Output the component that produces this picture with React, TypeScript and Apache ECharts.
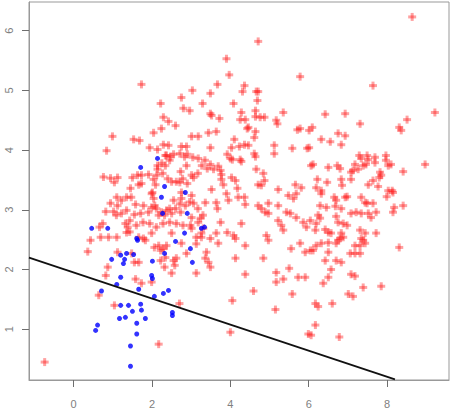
import React, { useEffect, useRef } from "react";
import * as echarts from "echarts";

const xTicks = [0, 2, 4, 6, 8];
const yTicks = [1, 2, 3, 4, 5, 6];

const redPoints: number[][] = [
  [1.73,5.10],[2.22,4.78],[2.29,4.55],[2.24,4.36],[2.04,4.29],[0.99,4.23],[1.53,4.18],[1.68,4.16],[0.84,3.99],[1.94,4.04],[2.14,4.01],[2.29,4.09],[2.34,3.91],[2.14,3.74],[2.14,3.68],[2.34,3.74],[0.76,3.55],[0.94,3.53],[1.12,3.54],[1.04,3.46],[1.73,3.58],[1.91,3.59],[2.04,3.51],[2.09,3.42],[1.45,3.36],[1.66,3.42],[1.73,3.44],[2.01,3.29],
  [4.71,5.82],[3.90,5.53],[3.97,5.26],[5.78,5.23],[3.67,5.10],[4.36,5.08],[4.31,4.98],[3.03,5.00],[3.49,4.95],[4.66,4.98],[4.71,4.98],[2.75,4.88],[4.69,4.83],[4.08,4.78],[3.29,4.78],[2.80,4.70],[2.96,4.66],[3.49,4.61],[3.52,4.58],[4.28,4.63],[4.64,4.66],[4.64,4.56],[4.76,4.55],[4.87,4.55],[5.35,4.63],[4.25,4.51],[4.38,4.51],[3.72,4.53],[5.17,4.50],[5.20,4.44],[2.42,4.48],[2.60,4.41],[4.46,4.38],[4.43,4.36],[5.71,4.34],[5.78,4.36],[4.64,4.31],[4.61,4.21],[3.44,4.29],[3.64,4.31],[3.01,4.23],[3.18,4.23],[4.10,4.18],[4.03,4.04],[4.23,4.06],[4.36,4.09],[4.46,4.08],[3.49,4.04],[2.75,4.06],[2.88,4.06],[5.12,4.08],[5.12,3.94],[5.58,4.03],[5.96,4.03],[2.42,4.08],[4.61,3.94],[4.64,3.89],[2.55,3.93],[2.47,3.89],[2.83,3.89],[2.90,3.93],[3.92,3.93],[4.00,3.86],[4.05,3.84],[3.18,3.86],[4.28,3.81],[4.25,3.84],[4.66,3.68],[2.88,3.74],[3.49,3.76],[3.41,3.69],[3.57,3.68],[3.69,3.73],[3.75,3.66],[3.77,3.59],[3.77,3.51],[4.84,3.61],[4.87,3.49],[4.03,3.54],[4.13,3.49],[2.73,3.64],[3.01,3.58],[3.06,3.54],[2.50,3.47],[2.62,3.47],[2.90,3.44],[3.52,3.34],[3.82,3.42],[4.18,3.36],[4.71,3.42],[4.79,3.41],[5.22,3.34],[5.66,3.42],[5.81,3.37],
  [8.64,6.23],[7.64,5.08],[6.42,4.60],[6.93,4.61],[9.22,4.63],[8.51,4.51],[7.31,4.44],[6.09,4.38],[6.01,4.33],[8.31,4.38],[8.36,4.33],[6.75,4.28],[6.93,4.24],[6.32,4.18],[6.55,4.14],[6.83,4.09],[6.01,4.04],[6.06,3.74],[6.11,3.76],[6.50,3.71],[6.73,3.74],[6.80,3.69],[7.29,3.91],[7.34,3.86],[7.49,3.91],[7.52,3.84],[7.69,3.88],[7.69,3.79],[7.97,3.91],[7.97,3.83],[8.10,3.76],[8.03,3.74],[7.18,3.76],[7.26,3.68],[7.13,3.66],[7.08,3.63],[7.39,3.74],[7.46,3.76],[7.82,3.63],[7.85,3.58],[7.80,3.54],[8.41,3.64],[8.97,3.76],[6.22,3.51],[6.47,3.46],[6.83,3.51],[7.08,3.51],[6.19,3.37],[6.32,3.32],[6.85,3.41],[7.64,3.49],[7.52,3.42],[7.77,3.39],[8.03,3.32],[8.13,3.32],
  [1.10,3.21],[1.35,3.21],[0.94,3.11],[1.12,3.07],[1.58,3.09],[1.78,3.07],[1.99,3.04],[1.99,3.27],[2.04,3.19],[0.82,2.97],[1.02,2.97],[1.22,2.94],[1.35,2.99],[1.55,2.92],[1.71,2.94],[1.91,2.96],[2.11,3.02],[2.24,2.96],[2.17,2.91],[2.32,2.91],[1.32,2.77],[1.38,2.71],[1.35,2.62],[0.74,2.77],[1.99,2.61],[0.43,2.49],[0.69,2.54],[0.89,2.54],[1.10,2.54],[1.66,2.54],[1.78,2.52],[1.83,2.49],[2.06,2.37],[2.17,2.40],[2.22,2.32],[2.29,2.35],[0.36,2.30],[1.12,2.29],[1.48,2.27],[1.55,2.12],[1.66,2.12],[2.34,2.20],[2.22,2.15],[0.87,2.04],[0.82,1.90],[1.58,1.84],[1.73,1.77],[1.99,1.79],[2.32,2.04],[0.64,1.57],[1.04,1.40],[2.17,0.75],[-0.74,0.45],
  [2.75,3.29],[3.01,3.24],[2.55,3.16],[2.75,3.19],[3.06,3.11],[2.85,3.07],[2.60,3.02],[2.73,2.96],[2.50,2.94],[3.36,3.12],[3.64,3.12],[3.90,3.27],[3.95,3.16],[4.20,3.21],[4.36,3.21],[4.38,3.09],[3.67,3.02],[3.01,2.87],[3.24,2.86],[3.18,2.79],[2.98,2.74],[3.75,2.79],[4.28,2.77],[4.71,3.07],[4.79,3.02],[4.89,2.96],[4.97,2.94],[4.97,3.11],[5.22,3.07],[5.48,3.24],[5.61,3.19],[5.68,3.27],[5.43,2.96],[5.53,2.94],[5.68,2.87],[5.22,2.82],[5.30,2.74],[5.35,2.66],[5.86,2.79],[5.94,2.71],[2.50,2.61],[2.75,2.44],[3.13,2.54],[3.26,2.54],[3.49,2.52],[3.64,2.61],[3.69,2.44],[3.92,2.62],[4.08,2.57],[4.13,2.52],[3.31,2.69],[3.26,2.61],[3.01,2.69],[4.38,2.40],[4.92,2.57],[4.97,2.49],[5.78,2.44],[5.91,2.29],[5.55,2.35],[2.55,2.15],[2.62,2.19],[3.39,2.29],[3.36,2.19],[3.44,2.12],[3.49,2.04],[4.13,2.19],[4.84,2.19],[2.50,1.94],[3.13,1.94],[4.38,1.92],[5.17,1.95],[5.17,1.79],[5.35,1.84],[5.50,2.02],[5.73,1.87],[5.91,1.87],[4.59,1.64],[5.58,1.59],[4.05,1.48],[2.70,1.43],[5.15,1.33],[4.00,0.95],[5.99,0.92],
  [6.32,3.27],[6.65,3.21],[6.70,3.16],[6.93,3.21],[6.98,3.22],[7.34,3.21],[7.44,3.12],[7.49,3.11],[7.64,3.11],[7.99,3.22],[8.15,3.29],[6.29,3.07],[6.45,3.04],[6.68,3.06],[6.83,3.02],[7.08,2.94],[7.21,2.96],[7.34,2.94],[7.52,2.94],[7.59,2.87],[7.72,2.96],[8.18,3.04],[8.15,2.96],[8.41,3.07],[6.24,2.91],[6.29,2.86],[6.04,2.82],[6.19,2.77],[6.70,2.89],[6.75,2.79],[6.88,2.77],[6.98,2.74],[6.17,2.66],[6.42,2.67],[6.50,2.62],[6.57,2.61],[6.83,2.61],[6.88,2.54],[6.80,2.52],[7.31,2.66],[7.44,2.61],[7.34,2.52],[7.39,2.49],[7.72,2.61],[6.19,2.40],[6.32,2.44],[6.50,2.45],[6.70,2.44],[6.75,2.49],[6.04,2.32],[6.11,2.32],[7.18,2.40],[7.31,2.40],[7.44,2.44],[7.06,2.27],[7.18,2.27],[7.31,2.27],[6.50,2.29],[6.42,2.15],[6.70,2.15],[6.83,2.12],[8.31,2.37],[6.57,2.00],[7.08,1.92],[7.18,1.89],[6.50,1.87],[6.37,1.77],[7.39,1.70],[7.85,1.72],[7.01,1.59],[7.13,1.55],[6.17,1.43],[6.24,1.38],[6.60,1.43],[6.17,1.07],[6.06,0.90],[6.78,0.87],
  [1.50,3.54],[1.63,3.58],[2.12,3.58],[2.27,3.61],[2.40,3.52],[2.71,3.46],[2.78,3.52],[3.17,3.61],[3.27,3.74],[3.35,3.83],[3.04,3.88],[2.71,3.94],[2.37,3.91],[2.45,3.83],[2.25,3.78],
  [1.22,3.16],[1.47,3.21],[2.07,3.07],[2.37,2.99],[2.45,3.02],[2.71,3.10],[2.96,3.13],[3.17,3.02],[3.30,2.91],[2.79,2.74],[2.62,2.77],[2.45,2.79],[2.28,2.77],[2.11,2.71],[1.94,2.77],[1.77,2.79],[1.60,2.74],[1.43,2.82],[1.09,2.91],[0.66,2.71],[1.43,2.63],[2.37,2.40],[2.58,2.07],[2.88,2.27],[3.13,2.43]
];

const bluePoints: number[][] = [
  [2.14,3.86],[1.71,3.71],[2.32,3.39],[2.85,3.29],[2.24,3.21],[2.27,2.94],[2.90,2.94],[3.34,2.71],[3.26,2.69],[2.83,2.61],[2.60,2.47],[2.98,2.35],[3.03,2.12],[2.32,2.27],[0.46,2.69],[0.87,2.69],[1.61,2.52],[1.63,2.49],[1.35,2.27],[1.53,2.25],[1.20,2.24],[0.97,2.17],[1.30,2.17],[1.27,2.10],[2.01,2.14],[1.99,1.90],[2.01,1.85],[1.20,1.87],[1.10,1.75],[1.66,1.67],[0.71,1.64],[2.06,1.55],[2.29,1.60],[2.42,1.65],[1.20,1.40],[1.40,1.40],[1.71,1.42],[1.50,1.30],[1.73,1.32],[1.17,1.18],[1.32,1.20],[1.83,1.18],[1.61,1.10],[0.61,1.07],[0.56,0.98],[1.61,0.92],[1.45,0.72],[1.45,0.38],[2.52,1.28],[2.52,1.23]
];

const boundaryLine: number[][] = [[-1.14, 2.20], [8.2, 0.16]];

const gray = "#808080";
const tickColor = "#6e6e6e";
const frame = "#999999";
const font = "'Liberation Sans', Arial, sans-serif";
const redArm = "rgba(255,20,20,0.5)";

export default function App() {
  const ref = useRef<HTMLDivElement>(null);
  useEffect(() => {
    if (!ref.current) return;
    const chart = echarts.init(ref.current, null, { renderer: "svg" });
    chart.setOption({
      animation: false,
      backgroundColor: "#ffffff",
      grid: { left: 29, right: 6, top: 2, bottom: 37, show: true, borderColor: frame, borderWidth: 1 },
      xAxis: {
        type: "value", min: -1.14, max: 9.58,
        axisLine: { show: true, onZero: false, lineStyle: { color: frame } },
        splitLine: { show: false },
        axisTick: { show: true, customValues: xTicks, length: 7, lineStyle: { color: tickColor } },
        axisLabel: { customValues: xTicks, margin: 18, color: gray, fontSize: 11, fontFamily: font },
      },
      yAxis: {
        type: "value", min: 0.15, max: 6.48,
        axisLine: { show: true, onZero: false, lineStyle: { color: frame } },
        splitLine: { show: false },
        axisTick: { show: true, customValues: yTicks, length: 7, lineStyle: { color: tickColor } },
        axisLabel: { customValues: yTicks, rotate: 90, margin: 15, color: gray, fontSize: 11, fontFamily: font },
      },
      series: [
        {
          type: "scatter", data: redPoints, symbol: "rect", symbolSize: [8, 3],
          itemStyle: { color: redArm }, silent: true,
        },
        {
          type: "scatter", data: redPoints, symbol: "rect", symbolSize: [3, 8],
          itemStyle: { color: redArm }, silent: true,
        },
        {
          type: "scatter", data: bluePoints, symbol: "circle", symbolSize: 5,
          itemStyle: { color: "#0000ff" }, silent: true,
        },
        {
          type: "line", data: boundaryLine, symbol: "none", clip: true,
          lineStyle: { color: "#111", width: 1.8 }, silent: true,
        },
      ],
    });
    return () => chart.dispose();
  }, []);
  return <div ref={ref} style={{ position: "absolute", left: 0, top: 0, width: 455, height: 417 }} />;
}
